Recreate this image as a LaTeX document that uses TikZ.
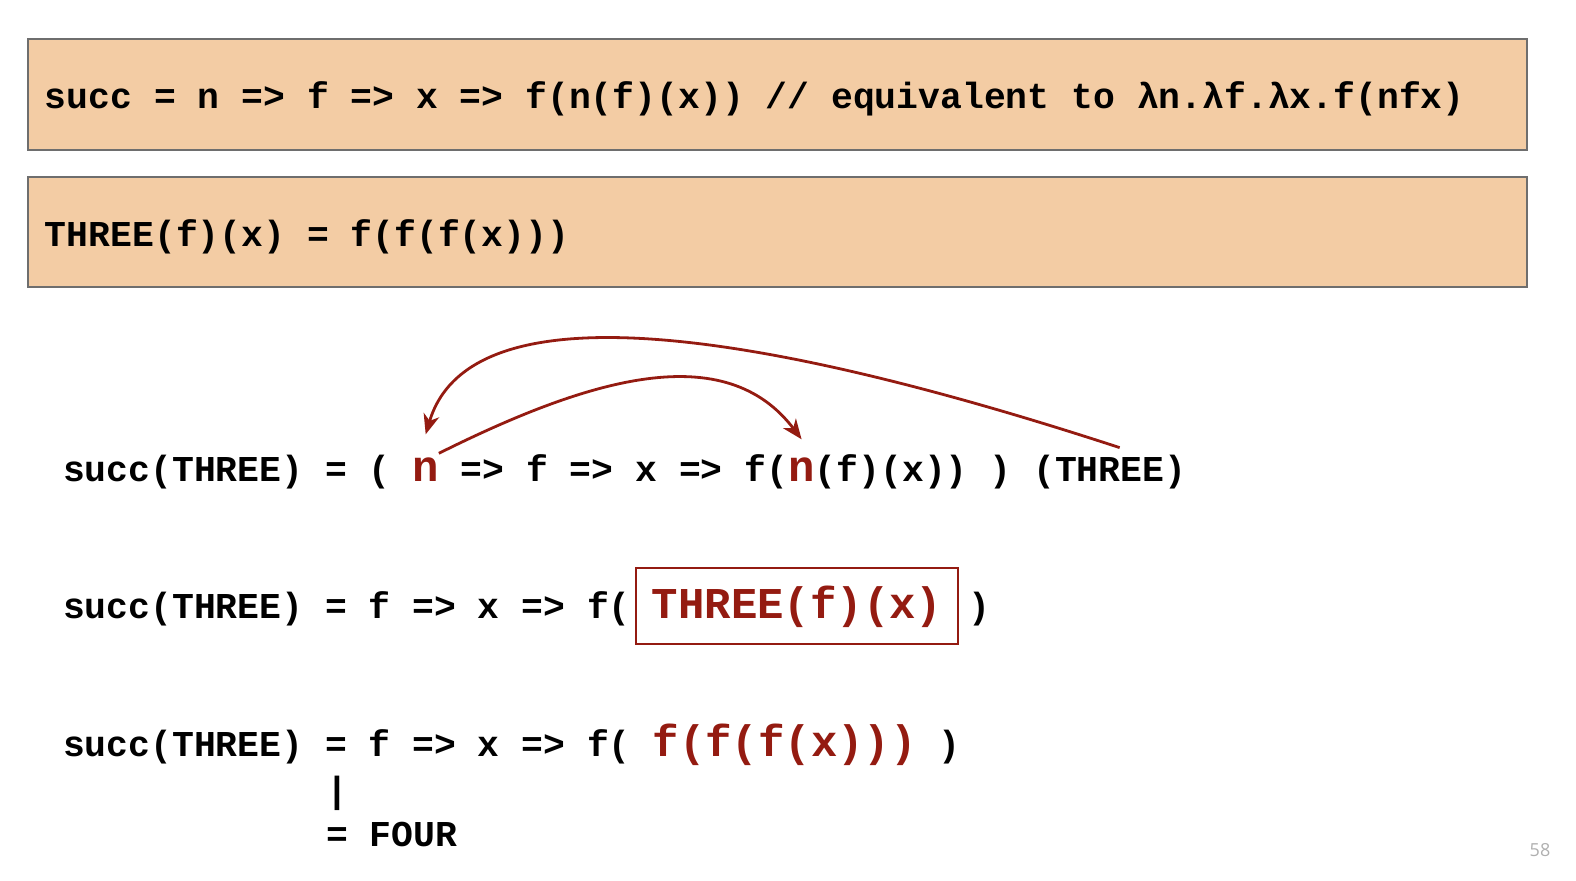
\documentclass[tikz,border=0pt]{standalone}
\usepackage{fontspec}
\newfontfamily\codefont{Liberation Mono}
\newfontfamily\numfont{Open Sans}
\usetikzlibrary{positioning,arrows.meta}
\definecolor{boxfill}{RGB}{243,204,164}
\definecolor{boxline}{RGB}{110,110,110}
\definecolor{darkred}{RGB}{148,27,17}
\definecolor{pagegray}{RGB}{175,175,175}
\begin{document}
\begin{tikzpicture}
[x=0.5pt,y=-0.5pt,
  codebox/.style={draw=boxline,fill=boxfill,line width=0.8pt},
  code/.style={inner sep=0pt,outer sep=0pt,anchor=base west,
    font=\codefont\bfseries\fontsize{18.2pt}{21pt}\selectfont},
  bigcode/.style={code,text=darkred,
    font=\codefont\bfseries\fontsize{22pt}{26pt}\selectfont},
  redarrow/.style={draw=darkred,line width=1.4pt,
    -{Stealth[length=10pt,width=8pt,inset=3pt]}}]
\useasboundingbox (0,0) rectangle (1576,880);
%% definitions
\draw[codebox] (28,39) rectangle (1527,150);
\draw[codebox] (28,177) rectangle (1527,287);
\node (succdef) [code] at (45,108)
  {succ = n => f => x => f(n(f)(x)) // equivalent to λn.λf.λx.f(nfx)};
\node (threedef) [code] at (45,246) {THREE(f)(x) = f(f(f(x)))};
%% first step
\node (rowa) [code] at (63,481) {succ(THREE) = (\ \null};
\node (na) [bigcode,base right=0pt of rowa] {n};
\node (rowab) [code,base right=0pt of na] {\ => f => x => f(};
\node (nb) [bigcode,base right=0pt of rowab] {n};
\node (rowac) [code,base right=0pt of nb] {(f)(x)) )\ \null};
\node (three) [code,base right=0pt of rowac] {(THREE)};
%% second step
\node (rowb) [code] at (63,618) {succ(THREE) = f => x => f(};
\node (inner) [bigcode,draw=darkred,line width=1pt,inner xsep=8pt,
  inner ysep=8.5pt,base right=2.5pt of rowb] {THREE(f)(x)};
\node (rowbc) [code,base right=5pt of inner] {)};
%% third step
\node (rowc) [code] at (63,756) {succ(THREE) = f => x => f(\ \null};
\node (fourf) [bigcode,base right=0pt of rowc] {f(f(f(x)))};
\node (rowcc) [code,base right=0pt of fourf] {\ )};
\node (bar) [code] at (326,802) {|};
\node (four) [code] at (326,846) {= FOUR};
%% page number
\node (pagenum) [anchor=base,text=pagegray,
  font=\numfont\fontsize{9pt}{10pt}\selectfont] at (1540,856) {58};
%% arrows
\draw[redarrow] ([xshift=5pt,yshift=3.5pt]three.north)
  .. controls (760,330) and (470,285) .. ([yshift=11.5pt]na.north);
\draw[redarrow] ([yshift=2pt]na.north east)
  .. controls (590,378) and (725,338) .. ([yshift=9pt]nb.north);
\end{tikzpicture}
\end{document}
